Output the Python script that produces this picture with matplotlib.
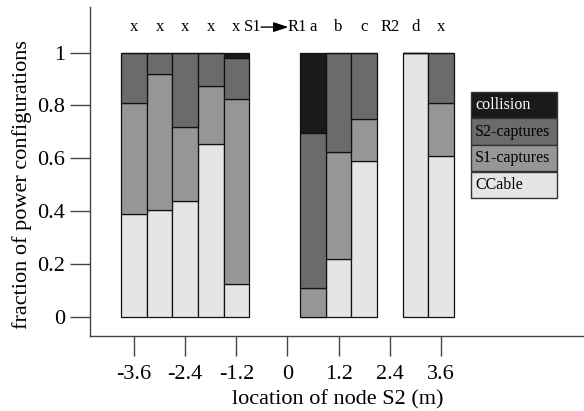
import matplotlib
matplotlib.use("Agg")
import matplotlib.pyplot as plt
from matplotlib.patches import Rectangle

plt.rcParams['font.family'] = ['Liberation Serif', 'DejaVu Serif']

# ---- data ----
positions = [-3.6, -3.0, -2.4, -1.8, -1.2, 0.6, 1.2, 1.8, 3.0, 3.6]
top_labels = ['x', 'x', 'x', 'x', 'x', 'a', 'b', 'c', 'd', 'x']
ccable = [0.390, 0.404, 0.438, 0.654, 0.124, 0.000, 0.219, 0.589, 1.000, 0.609]
s1_captures = [0.419, 0.514, 0.280, 0.220, 0.700, 0.109, 0.405, 0.159, 0.000, 0.200]
s2_captures = [0.191, 0.082, 0.282, 0.126, 0.155, 0.588, 0.376, 0.252, 0.000, 0.191]
collision = [0.000, 0.000, 0.000, 0.000, 0.021, 0.303, 0.000, 0.000, 0.000, 0.000]
series_names = ['CCable', 'S1-captures', 'S2-captures', 'collision']
series_colors = ['#e5e5e5', '#969696', '#6b6b6b', '#1a1a1a']
xticks = [-3.6, -2.4, -1.2, 0, 1.2, 2.4, 3.6]
xtick_labels = ['-3.6', '-2.4', '-1.2', '0', '1.2', '2.4', '3.6']
yticks = [0, 0.2, 0.4, 0.6, 0.8, 1]
ytick_labels = ['0', '0.2', '0.4', '0.6', '0.8', '1']

W, H = 584, 411
fig = plt.figure(figsize=(W / 100, H / 100), dpi=100)
ax = fig.add_axes([90 / W, (H - 336) / H, (W - 90) / W, (336 - 7) / H])

series = [ccable, s1_captures, s2_captures, collision]
bottom = [0.0] * len(positions)
for vals, col in zip(series, series_colors):
    ax.bar(positions, vals, width=0.6, bottom=bottom, color=col,
           edgecolor='#111111', linewidth=0.9, zorder=2)
    bottom = [b + v for b, v in zip(bottom, vals)]

ax.set_xlim(-4.632, 6.954)
ax.set_ylim(-0.0731, 1.1731)
for s in ['top', 'right']:
    ax.spines[s].set_visible(False)
for s in ['left', 'bottom']:
    ax.spines[s].set_color('#444444')
    ax.spines[s].set_linewidth(1.0)

ax.set_xticks(xticks)
ax.set_xticklabels(xtick_labels)
ax.set_yticks(yticks)
ax.set_yticklabels(ytick_labels)
ax.tick_params(axis='both', direction='out', length=14.4, width=1.0,
               color='#444444', labelsize=16)
ax.tick_params(axis='x', pad=6.5)
ax.tick_params(axis='y', pad=3.6)

# top labels
tl_fs = 12
for x, lab in zip(positions, top_labels):
    ax.text(x, 1.097, lab, ha='center', va='center', fontsize=tl_fs)
ax.text(2.4, 1.097, 'R2', ha='center', va='center', fontsize=tl_fs)
ax.text(-0.6, 1.097, 'S1', ha='right', va='center', fontsize=tl_fs)
ax.text(0.0, 1.097, 'R1', ha='left', va='center', fontsize=tl_fs)
ax.annotate('', xy=(0.02, 1.097), xytext=(-0.62, 1.097),
            arrowprops=dict(arrowstyle='-|>,head_length=0.9,head_width=0.3',
                            color='black', lw=1.0, shrinkA=0, shrinkB=0,
                            mutation_scale=10))

# axis labels
fig.text(338 / W, 1 - 400 / H, 'location of node S2 (m)', ha='center',
         va='center', fontsize=16)
fig.text(22 / W, 1 - 185 / H, 'fraction of power configurations',
         ha='center', va='center', rotation=90, fontsize=16)

# legend box
lx0, lx1 = 471, 557
ly0 = 92
row_h = 26.5
for i, (name, col) in enumerate(zip(series_names[::-1], series_colors[::-1])):
    ytop = ly0 + i * row_h
    rect = Rectangle((lx0 / W, 1 - (ytop + row_h) / H), (lx1 - lx0) / W,
                     row_h / H, transform=fig.transFigure,
                     facecolor=col, edgecolor='#333333', linewidth=1.0)
    fig.add_artist(rect)
    fig.text(475 / W, 1 - (ytop + row_h / 2) / H, name, ha='left',
             va='center', fontsize=11.5,
             color='white' if name == 'collision' else 'black')

fig.savefig('out.png', dpi=100)
